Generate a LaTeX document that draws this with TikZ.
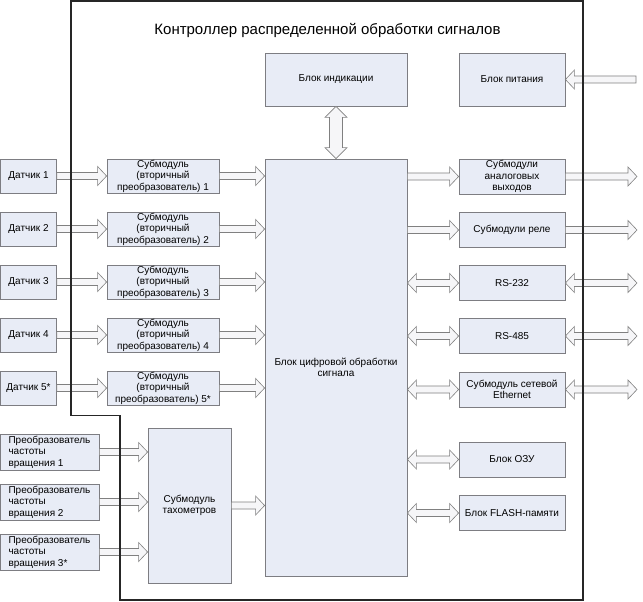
\documentclass[tikz,border=0pt]{standalone}
\usepackage{fontspec}
\setmainfont{Liberation Sans}
\usetikzlibrary{calc}

\definecolor{blokfill}{RGB}{232,236,246}
\definecolor{blokline}{RGB}{125,125,130}
\definecolor{strfill}{RGB}{246,246,248}

\def\ash{3.5pt}\def\ahd{9.5pt}\def\alen{9pt}

\tikzset{
  blok/.style={draw=blokline, line width=0.8pt, fill=blokfill, align=center,
    inner sep=1pt, font=\fontsize{10}{11.5}\selectfont},
  ramka/.style={draw=black!85, line width=1.1pt},
  shiroko/.code={\def\ash{6.5pt}\def\ahd{11pt}\def\alen{11pt}},
  strelka/.style={draw=gray, line width=0.6pt, fill=strfill, to path={
    ($(\tikztostart)!\ash!90:(\tikztotarget)$)
    -- ($(\tikztotarget)!\alen!(\tikztostart)!\ash!90:(\tikztotarget)$)
    -- ($(\tikztotarget)!\alen!(\tikztostart)!\ahd!90:(\tikztotarget)$)
    -- (\tikztotarget)
    -- ($(\tikztotarget)!\alen!(\tikztostart)!\ahd!-90:(\tikztotarget)$)
    -- ($(\tikztotarget)!\alen!(\tikztostart)!\ash!-90:(\tikztotarget)$)
    -- ($(\tikztostart)!\ash!-90:(\tikztotarget)$) -- cycle}},
  dvestrelki/.style={draw=gray, line width=0.6pt, fill=strfill, to path={
    (\tikztostart)
    -- ($(\tikztostart)!\alen!(\tikztotarget)!\ahd!90:(\tikztotarget)$)
    -- ($(\tikztostart)!\alen!(\tikztotarget)!\ash!90:(\tikztotarget)$)
    -- ($(\tikztotarget)!\alen!(\tikztostart)!\ash!90:(\tikztotarget)$)
    -- ($(\tikztotarget)!\alen!(\tikztostart)!\ahd!90:(\tikztotarget)$)
    -- (\tikztotarget)
    -- ($(\tikztotarget)!\alen!(\tikztostart)!\ahd!-90:(\tikztotarget)$)
    -- ($(\tikztotarget)!\alen!(\tikztostart)!\ash!-90:(\tikztotarget)$)
    -- ($(\tikztostart)!\alen!(\tikztotarget)!\ash!-90:(\tikztotarget)$)
    -- ($(\tikztostart)!\alen!(\tikztotarget)!\ahd!-90:(\tikztotarget)$)
    -- cycle}}
}

\begin{document}
\begin{tikzpicture}[x=1pt, y=-1pt]
            \path[use as bounding box, fill=white] (0,0) rectangle (643,602);
            \node[font=\fontsize{15}{17}\selectfont] (zagl) at (327.5,30) {Контроллер распределенной обработки сигналов};

            % центральные блоки
            \node[blok, minimum width=142pt, minimum height=417pt] (cifr) at (336,367.5) {Блок цифровой обработки\\сигнала};
            \node[blok, minimum width=142pt, minimum height=53pt] (indik) at (336,79.5) {Блок индикации};
            \node[blok, minimum width=106pt, minimum height=53pt] (pitan) at (512,79.5) {Блок питания};
            \draw[dvestrelki, shiroko] (indik.south) to (cifr.north);

            % датчики и субмодули
            \foreach \i/\y/\t in {1/176/1, 2/229/2, 3/282/3, 4/335/4, 5/388/5*} {
                \node[blok, minimum width=56pt, minimum height=34pt] (datchik\i) at (28.5,\y) {Датчик \t};
                \node[blok, minimum width=112pt, minimum height=34pt, inner ysep=0pt] (sub\i) at (163,\y) {Субмодуль\\(вторичный\\преобразователь) \t};
                \draw[strelka] (datchik\i.east) to (sub\i.west);
                \draw[strelka] (sub\i.east) to (sub\i.east -| cifr.west);
            }

            % тахометры
            \node[blok, minimum width=83pt, minimum height=155pt] (tah) at (189.5,505.5) {Субмодуль\\тахометров};
            \foreach \i/\y/\t in {1/452/1, 2/502/2, 3/552/3*} {
                \node[blok, align=left, minimum width=99pt, minimum height=36pt, inner ysep=0pt] (preob\i) at (49.5,\y) {Преобразователь\\частоты\\вращения \t};
                \draw[strelka] (preob\i.east) to (preob\i.east -| tah.west);
            }
            \draw[strelka] (tah.east) to (tah.east -| cifr.west);

            % правая колонка
            \coordinate (kraj) at (637,0);
            \coordinate (vhod) at (636,79.5);
            \node[blok, minimum width=106pt, minimum height=35pt, inner ysep=0pt] (analog) at (512,176.5) {Субмодули\\аналоговых\\выходов};
            \node[blok, minimum width=106pt, minimum height=35pt] (rele) at (512,230) {Субмодули реле};
            \node[blok, minimum width=106pt, minimum height=35pt] (rs232) at (512,283) {RS-232};
            \node[blok, minimum width=106pt, minimum height=35pt] (rs485) at (512,336) {RS-485};
            \node[blok, minimum width=106pt, minimum height=35pt] (eth) at (512,389.5) {Субмодуль сетевой\\Ethernet};
            \node[blok, minimum width=106pt, minimum height=35pt] (ozu) at (512,459.5) {Блок ОЗУ};
            \node[blok, minimum width=106pt, minimum height=35pt] (flash) at (512,513) {Блок FLASH-памяти};

            \draw[strelka] (vhod) to (pitan.east);
            \foreach \b in {analog, rele} {
                \draw[strelka] (\b.west -| cifr.east) to (\b.west);
                \draw[strelka] (\b.east) to (\b.east -| kraj);
            }
            \foreach \b in {rs232, rs485, eth} {
                \draw[dvestrelki] (\b.west -| cifr.east) to (\b.west);
                \draw[dvestrelki] (\b.east) to (\b.east -| kraj);
            }
            \foreach \b in {ozu, flash}
                \draw[dvestrelki] (\b.west -| cifr.east) to (\b.west);

            % рамка контроллера
            \draw[ramka] (71,1) -- (583,1) -- (583,600) -- (120,600) -- (120,415.5) -- (71,415.5) -- cycle;
        \end{tikzpicture}
\end{document}
